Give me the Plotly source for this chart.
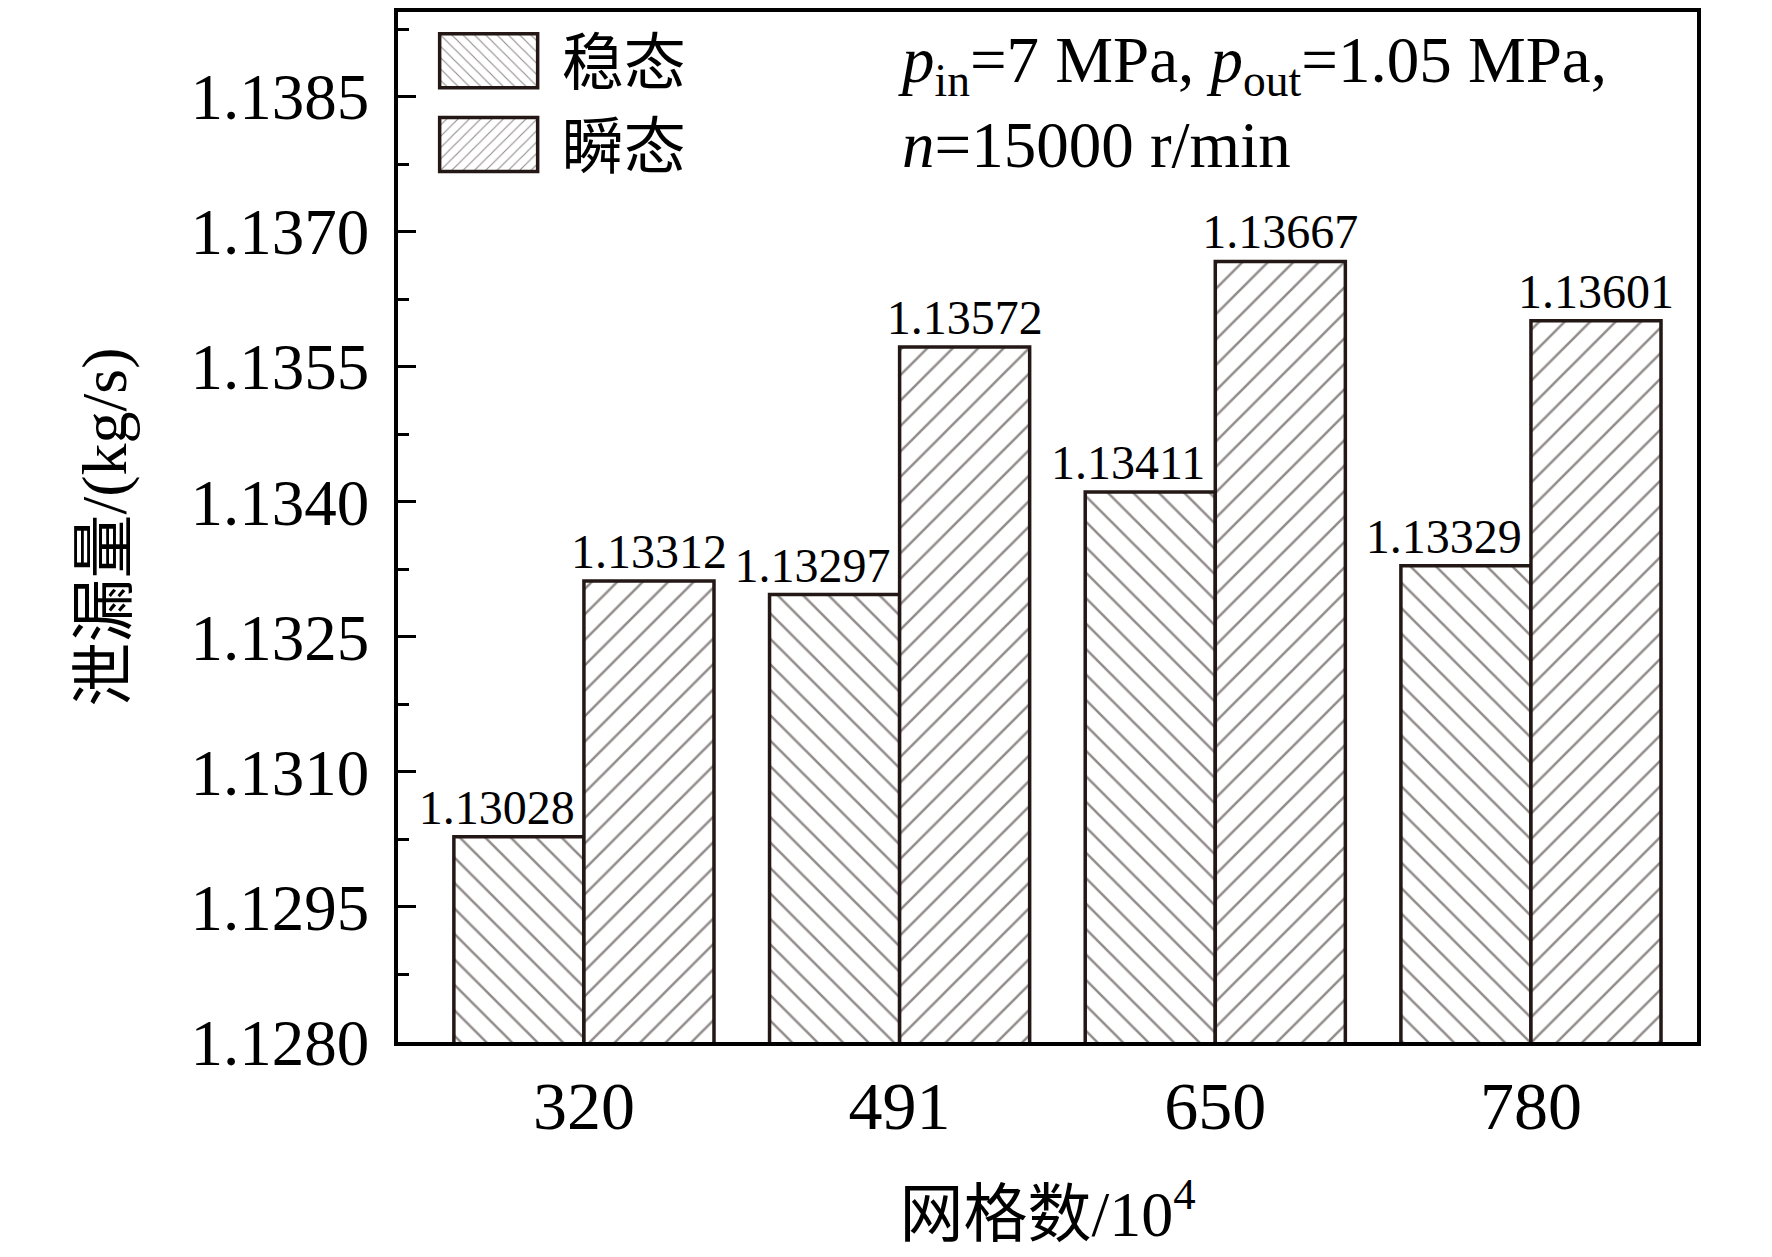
import plotly.graph_objects as go

# grid counts (x 10^4) and leakage flow rate (kg/s)
grids = ["320", "491", "650", "780"]
steady = [1.13028, 1.13297, 1.13411, 1.13329]
transient = [1.13312, 1.13572, 1.13667, 1.13601]
y_ticks = [1.1280, 1.1295, 1.1310, 1.1325, 1.1340, 1.1355, 1.1370, 1.1385]

INK = "#231815"
FONT = "Liberation Serif, 'Noto Sans CJK SC', serif"
BARGAP = 0.176
BAR_W = (1 - BARGAP) / 2


def hatched_bar(y, name, shape):
    return go.Bar(
        x=grids, y=y, name=name,
        marker=dict(color="white", line=dict(color=INK, width=3.5),
                    pattern=dict(shape=shape, fgcolor=INK, bgcolor="white",
                                 size=18, solidity=0.14)),
    )


def label_bar(y, offset):
    # invisible copy drawn last so the value labels sit on top of every bar
    return go.Bar(
        x=grids, y=y, offset=offset, width=BAR_W,
        showlegend=False, hoverinfo="skip",
        text=[f"{v:.5f}" for v in y], textposition="outside",
        constraintext="none", cliponaxis=False,
        textfont=dict(family=FONT, size=48, color="black"),
        marker=dict(color="rgba(0,0,0,0)", line=dict(width=0)),
    )


fig = go.Figure([
    hatched_bar(steady, "稳态", "\\"),
    hatched_bar(transient, "瞬态", "/"),
    label_bar(steady, -BAR_W - 0.07),
    label_bar(transient, 0),
])

fig.add_annotation(
    text="<i>p</i><sub>in</sub>=7 MPa, <i>p</i><sub>out</sub>=1.05 MPa,<br><i>n</i>=15000 r/min",
    xref="paper", yref="paper", x=0.383, y=0.99,
    xanchor="left", yanchor="top", align="left", showarrow=False,
    font=dict(family=FONT, size=65, color="black"),
)

fig.update_layout(
    width=1772, height=1257,
    margin=dict(l=390, r=83, t=0, b=223),
    paper_bgcolor="white", plot_bgcolor="white",
    barmode="group", bargap=BARGAP, bargroupgap=0,
    font=dict(family=FONT, color="black"),
    legend=dict(x=0.049, y=0.998, xanchor="left", yanchor="top",
                bgcolor="rgba(0,0,0,0)", font=dict(family=FONT, size=62),
                itemwidth=90, tracegroupgap=0),
    showlegend=True,
)

fig.update_xaxes(
    type="category", range=[-0.589, 3.526],
    showline=True, linecolor="black", linewidth=3.5, mirror=True,
    ticks="", showgrid=False, ticklabelstandoff=2,
    tickfont=dict(family=FONT, size=68),
    title=dict(text="网格数/10<sup>4</sup>", font=dict(family=FONT, size=64), standoff=49),
)
fig.update_yaxes(
    range=[1.128, 1.13944],
    tickvals=y_ticks, tickformat=".4f",
    showline=True, linecolor="black", linewidth=3.5, mirror=True,
    ticks="inside", ticklen=18, tickwidth=3, tickcolor="black",
    minor=dict(dtick=0.00075, tick0=1.128, ticks="inside", ticklen=11,
               tickwidth=3, tickcolor="black"),
    showgrid=False, zeroline=False, ticklabelstandoff=12,
    tickfont=dict(family=FONT, size=65),
    title=dict(text="泄漏量/(kg/s)", font=dict(family=FONT, size=64), standoff=44),
)

# plotly draws bar legend keys as small fixed squares; widen them to the
# large hatched boxes of the original figure (and let them spill past the
# legend's own clip box)
big_keys = """
var gd = document.getElementById('{plot_id}');
function bigKeys() {
  gd.querySelectorAll('.legend [clip-path]').forEach(function (e) {
    e.removeAttribute('clip-path');
  });
  gd.querySelectorAll('.legend .legendpoints path').forEach(function (p) {
    p.setAttribute('d', 'M26,27H-72V-27H26Z');
    p.style.strokeWidth = '3.5px';
  });
}
bigKeys();
gd.on('plotly_afterplot', bigKeys);
"""

fig.write_html("out.html", post_script=big_keys)
